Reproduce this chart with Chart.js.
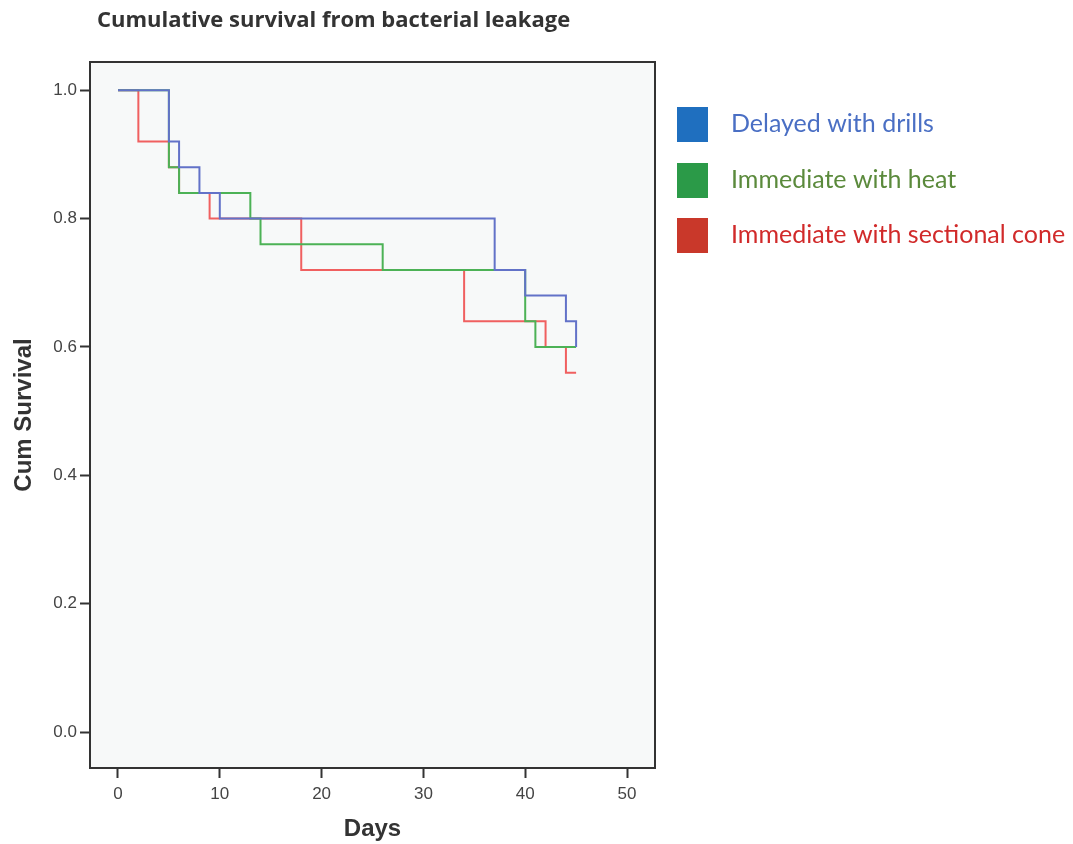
<!DOCTYPE html>
<html>
<head>
<meta charset="utf-8">
<script src="https://cdn.jsdelivr.net/npm/chart.js@4/dist/chart.umd.min.js"></script>
<style>
  body { margin: 0; background: #fff; }
  #wrap { width: 1073px; height: 844px; }
</style>
</head>
<body>
<div id="wrap"><canvas id="can" width="1073" height="844"></canvas></div>
<script>
// Données : [jour, survie cumulée]
const groupLabels = ["Delayed with drills", "Immediate with heat", "Immediate with sectional cone"];
const delayedDays = [0, 5, 6, 8, 10, 37, 40, 44, 45];
const delayedSurv = [1.0, 0.92, 0.88, 0.84, 0.80, 0.72, 0.68, 0.64, 0.60];
const heatDays = [0, 5, 6, 13, 14, 26, 40, 41, 45];
const heatSurv = [1.0, 0.88, 0.84, 0.80, 0.76, 0.72, 0.64, 0.60, 0.60];
const coneDays = [0, 2, 5, 6, 9, 18, 34, 42, 44, 45];
const coneSurv = [1.0, 0.92, 0.88, 0.84, 0.80, 0.72, 0.64, 0.60, 0.56, 0.56];
const xTicks = [0, 10, 20, 30, 40, 50];
const yTicks = [0.0, 0.2, 0.4, 0.6, 0.8, 1.0];

const lineColors = ["rgb(98,114,200)", "rgb(76,178,86)", "rgb(240,96,96)"];
const boxColors = ["#1f6fbf", "#2b9a48", "#c9382a"];
const textColors = ["#4a6fc4", "#5b8a3c", "#d12a2a"];

function toPoints(days, surv) {
  return days.map((d, i) => ({ x: d, y: surv[i] }));
}

// Fond et cadre de la zone du graphique
const frame = {
  id: "frame",
  beforeDraw(chart) {
    const { ctx, chartArea: a } = chart;
    ctx.save();
    ctx.fillStyle = "#f7f9f9";
    ctx.fillRect(a.left, a.top, a.right - a.left, a.bottom - a.top);
    ctx.restore();
  },
  afterDraw(chart) {
    const { ctx, chartArea: a } = chart;
    ctx.save();
    ctx.strokeStyle = "#333";
    ctx.lineWidth = 2;
    ctx.strokeRect(a.left, a.top, a.right - a.left, a.bottom - a.top);

    // titre
    ctx.fillStyle = "#333";
    ctx.font = "bold 22px 'Open Sans', Lato, sans-serif";
    ctx.textAlign = "left";
    ctx.textBaseline = "middle";
    ctx.fillText("Cumulative survival from bacterial leakage", 97, 21);

    // légende
    ctx.font = "25px Lato, 'Open Sans', sans-serif";
    const tops = [107, 163, 218];
    groupLabels.forEach((lab, i) => {
      ctx.fillStyle = boxColors[i];
      ctx.fillRect(677, tops[i], 31, 35);
      ctx.fillStyle = textColors[i];
      ctx.fillText(lab, 731, tops[i] + 17);
    });
    ctx.restore();
  }
};

const tickFont = { family: "'Liberation Sans', Arial", size: 17 };
const titleFont = { family: "'Liberation Sans', Arial", size: 24, weight: "bold" };

new Chart(document.getElementById("can"), {
  type: "line",
  data: {
    datasets: [
      { label: groupLabels[0], data: toPoints(delayedDays, delayedSurv), borderColor: lineColors[0] },
      { label: groupLabels[1], data: toPoints(heatDays, heatSurv), borderColor: lineColors[1] },
      { label: groupLabels[2], data: toPoints(coneDays, coneSurv), borderColor: lineColors[2] }
    ].map(d => Object.assign(d, { stepped: true, borderWidth: 2, pointRadius: 0, fill: false }))
  },
  options: {
    responsive: false,
    animation: false,
    layout: { padding: { top: 62, right: 418, left: 0, bottom: 0 } },
    plugins: { legend: { display: false }, title: { display: false }, tooltip: { enabled: false } },
    scales: {
      x: {
        type: "linear",
        min: -2.75, max: 52.75,
        afterBuildTicks: s => { s.ticks = xTicks.map(v => ({ value: v })); },
        afterFit: s => { s.height = 76; },
        grid: { drawOnChartArea: false, drawTicks: true, tickLength: 10, tickColor: "#333", tickWidth: 2 },
        border: { display: false },
        ticks: { color: "#444", font: tickFont, padding: 6, maxRotation: 0 },
        title: { display: true, text: "Days", color: "#333", font: titleFont, padding: { top: 0, bottom: 0 } }
      },
      y: {
        type: "linear",
        min: -0.056, max: 1.044,
        afterBuildTicks: s => { s.ticks = yTicks.map(v => ({ value: v })); },
        afterFit: s => { s.width = 90; },
        grid: { drawOnChartArea: false, drawTicks: true, tickLength: 10, tickColor: "#333", tickWidth: 2 },
        border: { display: false },
        ticks: { color: "#444", font: tickFont, padding: 3, callback: v => v.toFixed(1) },
        title: { display: true, text: "Cum Survival", color: "#333", font: titleFont, padding: { top: 10, bottom: 0 } }
      }
    }
  },
  plugins: [frame]
});
</script>
</body>
</html>
